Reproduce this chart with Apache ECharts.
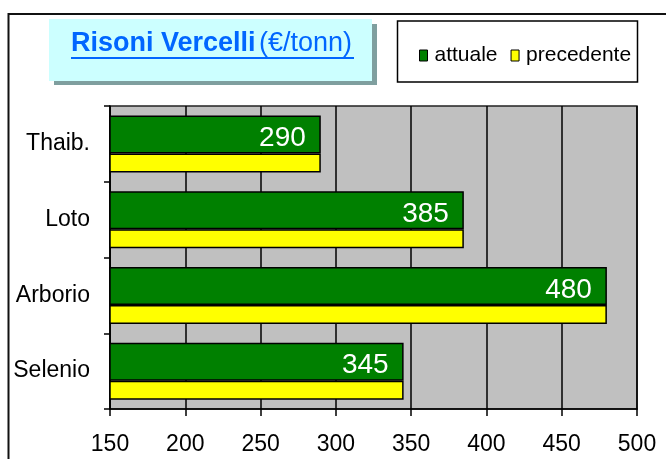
<!DOCTYPE html>
<html>
<head>
<meta charset="utf-8">
<script src="https://cdn.jsdelivr.net/npm/echarts@6/dist/echarts.min.js"></script>
<style>
html,body{margin:0;padding:0;background:#fff;}
#chart{width:666px;height:459px;}
</style>
</head>
<body>
<div id="chart"></div>
<script>
var categories = ['Thaib.', 'Loto', 'Arborio', 'Selenio'];
var attuale = [290, 385, 480, 345];
var precedente = [290, 385, 480, 345];
var xTicks = {min: 150, max: 500, interval: 50};
var FONT = '"Liberation Sans", Arial, sans-serif';

var chart = echarts.init(document.getElementById('chart'), null, {renderer: 'canvas'});
chart.setOption({
  animation: false,
  backgroundColor: '#ffffff',
  textStyle: {fontFamily: FONT},
  grid: {
    left: 110, right: 29, top: 106, bottom: 50,
    show: true, backgroundColor: '#C0C0C0', borderColor: '#222', borderWidth: 1.5,
    containLabel: false
  },
  legend: {
    data: [
      {name: 'attuale', itemStyle: {color: '#008000', borderColor: '#000', borderWidth: 1}},
      {name: 'precedente', itemStyle: {color: '#FFFF00', borderColor: '#000', borderWidth: 1}}
    ],
    icon: 'rect',
    itemWidth: 8, itemHeight: 11,
    itemGap: 13,
    left: 414, top: 40,
    textStyle: {fontSize: 21, color: '#000', fontFamily: FONT, padding: [0, 0, 0, 2]}
  },
  xAxis: {
    type: 'value',
    min: xTicks.min, max: xTicks.max, interval: xTicks.interval,
    axisLine: {show: true, lineStyle: {color: '#000', width: 1.5}},
    axisTick: {show: true, length: 7, lineStyle: {color: '#000', width: 1.5}},
    axisLabel: {fontSize: 23, color: '#000', margin: 24, fontFamily: FONT},
    splitLine: {show: true, lineStyle: {color: '#000', width: 1.5}}
  },
  yAxis: {
    type: 'category',
    data: categories,
    inverse: true,
    axisLine: {show: true, lineStyle: {color: '#000', width: 1.5}},
    axisTick: {show: true, length: 6, lineStyle: {color: '#000', width: 1.5}},
    axisLabel: {fontSize: 23, color: '#000', margin: 20, fontFamily: FONT, padding: [3, 0, 0, 0]},
    splitLine: {show: false}
  },
  series: [
    {
      name: 'attuale', type: 'bar', data: attuale,
      barWidth: 38, barGap: '0%',
      itemStyle: {color: '#008000', borderColor: '#000', borderWidth: 1.5},
      label: {show: true, position: 'insideRight', distance: 15, color: '#fff',
        fontSize: 28, fontFamily: FONT, offset: [0, 4]}
    },
    {
      name: 'precedente', type: 'bar', data: precedente,
      barWidth: 19, barGap: '0%',
      itemStyle: {color: '#FFFF00', borderColor: '#000', borderWidth: 1.5}
    }
  ],
  graphic: [
    {type: 'rect', z: 0, silent: true, shape: {x: 8.5, y: 14, width: 700, height: 500},
      style: {fill: 'none', stroke: '#111', lineWidth: 2}},
    {type: 'rect', z: 1, silent: true, shape: {x: 54, y: 24, width: 323, height: 61},
      style: {fill: '#7F9F9F'}},
    {type: 'rect', z: 2, silent: true, shape: {x: 49, y: 19, width: 323, height: 62},
      style: {fill: '#CCFFFF'}},
    {type: 'text', z: 3, silent: true, x: 71, y: 44,
      style: {
        text: '{a|Risoni Vercelli} {b|(€/tonn)}',
        verticalAlign: 'middle', align: 'left',
        rich: {
          a: {fontSize: 27, fontWeight: 'bold', fill: '#0066FF', fontFamily: FONT},
          b: {fontSize: 27, fontWeight: 'normal', fill: '#0066FF', fontFamily: FONT}
        }
      }},
    {type: 'line', z: 3, silent: true, shape: {x1: 71, y1: 58, x2: 354, y2: 58},
      style: {stroke: '#0066FF', lineWidth: 2}},
    {type: 'rect', z: 1, silent: true, shape: {x: 397.5, y: 21, width: 240, height: 61},
      style: {fill: '#fff', stroke: '#000', lineWidth: 1.5}}
  ]
});
</script>
</body>
</html>
